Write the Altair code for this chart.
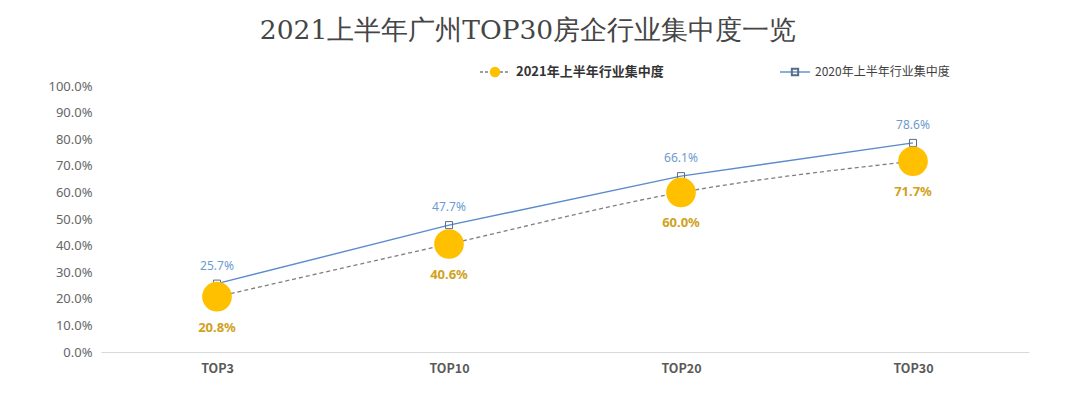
import altair as alt
import pandas as pd

categories = ["TOP3", "TOP10", "TOP20", "TOP30"]
values_2021 = [20.8, 40.6, 60.0, 71.7]
values_2020 = [25.7, 47.7, 66.1, 78.6]
y_ticks = [0, 10, 20, 30, 40, 50, 60, 70, 80, 90, 100]

title_text = "2021上半年广州TOP30房企行业集中度一览"
legend_2021 = "2021年上半年行业集中度"
legend_2020 = "2020年上半年行业集中度"

df = pd.DataFrame({
    "cat": categories,
    "v21": [v / 100 for v in values_2021],
    "v20": [v / 100 for v in values_2020],
})
one = pd.DataFrame({"a": [0]})

FONT = "Noto Sans CJK SC"
BLUE = "#5B8BCB"
GOLD = "#FFC000"
GOLD_TXT = "#D0A21C"

x_enc = alt.X("cat:N", sort=categories, title=None,
              scale=alt.Scale(paddingInner=0, paddingOuter=0.5),
              axis=alt.Axis(labelAngle=0, ticks=False, labelPadding=10,
                            labelFontWeight="bold", labelFontSize=12.5,
                            labelColor="#595959", labelFont=FONT,
                            domainColor="#D9D9D9", domainWidth=1, grid=False))
y_scale = alt.Scale(domain=[0, 1], nice=False)
y_axis = alt.Axis(values=[t / 100 for t in y_ticks], format=".1%", ticks=False,
                  domain=False, grid=False, labelPadding=9, labelFontSize=13,
                  labelOverlap=False,
                  labelColor="#666666", labelFont="Noto Sans")


def Y(field):
    return alt.Y(field, type="quantitative", scale=y_scale, axis=y_axis, title=None)


base = alt.Chart(df).encode(x=x_enc)

dashed = base.mark_line(color="#7F7F7F", strokeDash=[4, 3], strokeWidth=1.3,
                        interpolate="monotone").encode(y=Y("v21"))
line20 = base.mark_line(color=BLUE, strokeWidth=1.4).encode(y=Y("v20"))
sq20 = base.mark_point(shape="square", size=50, filled=False, color="#5A6B85",
                       strokeWidth=1, opacity=1).encode(y=Y("v20"))
circ21 = base.mark_circle(color=GOLD, size=880, opacity=1).encode(y=Y("v21"))
lab20 = base.mark_text(dy=-18, fontSize=12, color="#6C9BD2", font="Noto Sans").encode(
    y=Y("v20"), text=alt.Text("v20:Q", format=".1%"))
lab21 = base.mark_text(dy=31, fontSize=13, fontWeight="bold", color=GOLD_TXT,
                       font="Noto Sans").encode(
    y=Y("v21"), text=alt.Text("v21:Q", format=".1%"))

ob = alt.Chart(one)
title = ob.mark_text(text=title_text, font="DejaVu Serif", fontSize=26.5,
                     color="#454545", align="center", baseline="middle").encode(
    x=alt.value(427), y=alt.value(-55))
leg1_line = ob.mark_rule(color="#7F7F7F", strokeDash=[3, 2], strokeWidth=1.3).encode(
    x=alt.value(379), x2=alt.value(409), y=alt.value(-14))
leg1_dot = ob.mark_circle(color=GOLD, size=110, opacity=1).encode(
    x=alt.value(394), y=alt.value(-14))
leg1_txt = ob.mark_text(text=legend_2021, font=FONT, fontSize=13, fontWeight="bold",
                        color="#333333", align="left", baseline="middle").encode(
    x=alt.value(415), y=alt.value(-14))
leg2_line = ob.mark_rule(color=BLUE, strokeWidth=1.4).encode(
    x=alt.value(679), x2=alt.value(709), y=alt.value(-14))
leg2_sq = ob.mark_point(shape="square", size=40, filled=False, color="#5A6B85",
                        opacity=1).encode(x=alt.value(694), y=alt.value(-14))
leg2_txt = ob.mark_text(text=legend_2020, font=FONT, fontSize=12,
                        color="#404040", align="left", baseline="middle").encode(
    x=alt.value(714), y=alt.value(-14))

chart = alt.layer(
    dashed, line20, sq20, circ21, lab20, lab21,
    title, leg1_line, leg1_dot, leg1_txt, leg2_line, leg2_sq, leg2_txt
).properties(
    width=928, height=266,
    autosize=alt.AutoSizeParams(type="none"),
    padding={"left": 93, "top": 78, "right": 43, "bottom": 33},
).configure(background="white").configure_view(stroke=None, strokeWidth=0)

chart.save("out.html", embed_options={"renderer": "svg", "actions": False})
